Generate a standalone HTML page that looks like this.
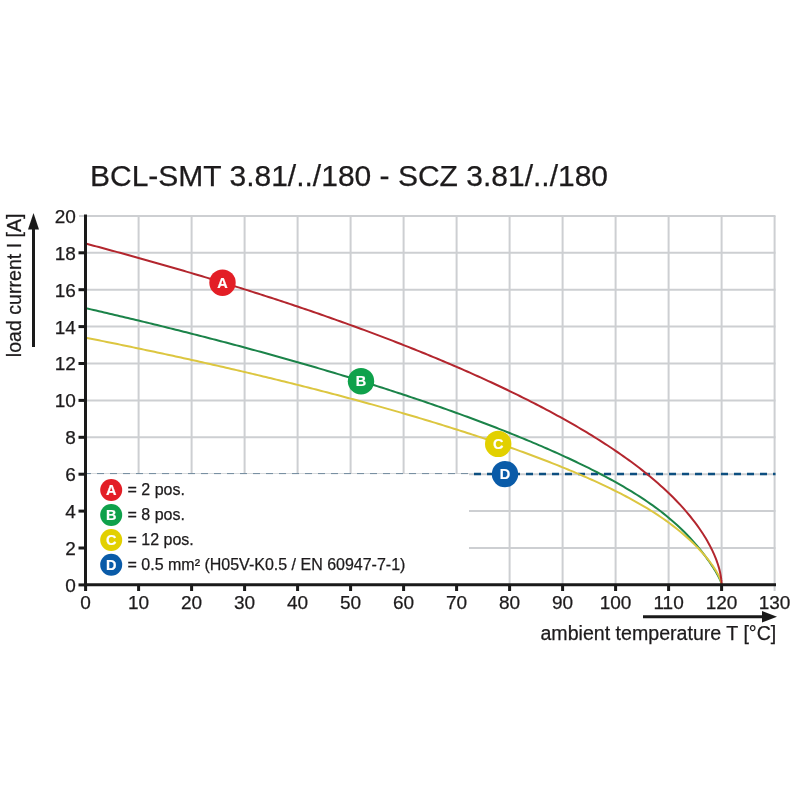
<!DOCTYPE html>
<html><head><meta charset="utf-8"><style>
html,body{margin:0;padding:0;background:#fff;width:800px;height:800px;overflow:hidden}
svg{display:block;filter:blur(0.35px)}
text{font-family:"Liberation Sans",sans-serif;fill:#1d1b1c;stroke:#1d1b1c;stroke-width:0.25px}
</style></head><body>
<svg width="800" height="800" viewBox="0 0 800 800">
<rect width="800" height="800" fill="#fff"/>
<text x="90" y="185.6" font-size="30">BCL-SMT 3.81/../180 - SCZ 3.81/../180</text>
<g stroke="#cdcfd2" stroke-width="2"><line x1="85.60" y1="215.9" x2="85.60" y2="591" /><line x1="138.60" y1="215.9" x2="138.60" y2="591" /><line x1="191.60" y1="215.9" x2="191.60" y2="591" /><line x1="244.60" y1="215.9" x2="244.60" y2="591" /><line x1="297.60" y1="215.9" x2="297.60" y2="591" /><line x1="350.60" y1="215.9" x2="350.60" y2="591" /><line x1="403.60" y1="215.9" x2="403.60" y2="591" /><line x1="456.60" y1="215.9" x2="456.60" y2="591" /><line x1="509.60" y1="215.9" x2="509.60" y2="591" /><line x1="562.60" y1="215.9" x2="562.60" y2="591" /><line x1="615.60" y1="215.9" x2="615.60" y2="591" /><line x1="668.60" y1="215.9" x2="668.60" y2="591" /><line x1="721.60" y1="215.9" x2="721.60" y2="591" /><line x1="774.60" y1="215.9" x2="774.60" y2="591" /><line x1="79" y1="584.90" x2="775.5" y2="584.90" /><line x1="79" y1="548.00" x2="775.5" y2="548.00" /><line x1="79" y1="511.10" x2="775.5" y2="511.10" /><line x1="79" y1="474.20" x2="775.5" y2="474.20" /><line x1="79" y1="437.30" x2="775.5" y2="437.30" /><line x1="79" y1="400.40" x2="775.5" y2="400.40" /><line x1="79" y1="363.50" x2="775.5" y2="363.50" /><line x1="79" y1="326.60" x2="775.5" y2="326.60" /><line x1="79" y1="289.70" x2="775.5" y2="289.70" /><line x1="79" y1="252.80" x2="775.5" y2="252.80" /><line x1="79" y1="215.90" x2="775.5" y2="215.90" /></g>
<rect x="87" y="474" width="382" height="109.5" fill="#fff"/>
<line x1="86" y1="473.6" x2="469" y2="473.6" stroke="#6f889c" stroke-width="1" stroke-dasharray="7 6" stroke-dashoffset="2"/>
<line x1="469" y1="474" x2="775.5" y2="474" stroke="#0d4f80" stroke-width="2.4" stroke-dasharray="7 6" stroke-dashoffset="8"/>
<path d="M85.60,308.15 L88.25,308.76 L90.90,309.37 L93.55,309.97 L96.20,310.59 L98.85,311.20 L101.50,311.81 L104.15,312.43 L106.80,313.05 L109.45,313.67 L112.10,314.29 L114.75,314.91 L117.40,315.53 L120.05,316.16 L122.70,316.78 L125.35,317.41 L128.00,318.04 L130.65,318.68 L133.30,319.31 L135.95,319.94 L138.60,320.58 L141.25,321.22 L143.90,321.86 L146.55,322.50 L149.20,323.14 L151.85,323.79 L154.50,324.44 L157.15,325.08 L159.80,325.73 L162.45,326.39 L165.10,327.04 L167.75,327.69 L170.40,328.35 L173.05,329.01 L175.70,329.67 L178.35,330.33 L181.00,331.00 L183.65,331.66 L186.30,332.33 L188.95,333.00 L191.60,333.67 L194.25,334.35 L196.90,335.02 L199.55,335.70 L202.20,336.38 L204.85,337.06 L207.50,337.74 L210.15,338.43 L212.80,339.11 L215.45,339.80 L218.10,340.49 L220.75,341.19 L223.40,341.88 L226.05,342.58 L228.70,343.28 L231.35,343.98 L234.00,344.68 L236.65,345.39 L239.30,346.09 L241.95,346.80 L244.60,347.51 L247.25,348.23 L249.90,348.94 L252.55,349.66 L255.20,350.38 L257.85,351.10 L260.50,351.82 L263.15,352.55 L265.80,353.28 L268.45,354.01 L271.10,354.74 L273.75,355.48 L276.40,356.21 L279.05,356.95 L281.70,357.70 L284.35,358.44 L287.00,359.19 L289.65,359.94 L292.30,360.69 L294.95,361.44 L297.60,362.20 L300.25,362.96 L302.90,363.72 L305.55,364.48 L308.20,365.25 L310.85,366.02 L313.50,366.79 L316.15,367.56 L318.80,368.34 L321.45,369.12 L324.10,369.90 L326.75,370.68 L329.40,371.47 L332.05,372.26 L334.70,373.05 L337.35,373.85 L340.00,374.64 L342.65,375.44 L345.30,376.25 L347.95,377.05 L350.60,377.86 L353.25,378.68 L355.90,379.49 L358.55,380.31 L361.20,381.13 L363.85,381.95 L366.50,382.78 L369.15,383.61 L371.80,384.44 L374.45,385.28 L377.10,386.12 L379.75,386.96 L382.40,387.81 L385.05,388.66 L387.70,389.51 L390.35,390.37 L393.00,391.22 L395.65,392.09 L398.30,392.95 L400.95,393.82 L403.60,394.69 L406.25,395.57 L408.90,396.45 L411.55,397.33 L414.20,398.22 L416.85,399.11 L419.50,400.01 L422.15,400.90 L424.80,401.81 L427.45,402.71 L430.10,403.62 L432.75,404.54 L435.40,405.45 L438.05,406.38 L440.70,407.30 L443.35,408.23 L446.00,409.17 L448.65,410.11 L451.30,411.05 L453.95,412.00 L456.60,412.95 L459.25,413.91 L461.90,414.87 L464.55,415.83 L467.20,416.80 L469.85,417.78 L472.50,418.76 L475.15,419.74 L477.80,420.73 L480.45,421.73 L483.10,422.73 L485.75,423.73 L488.40,424.74 L491.05,425.76 L493.70,426.78 L496.35,427.80 L499.00,428.84 L501.65,429.87 L504.30,430.92 L506.95,431.97 L509.60,433.02 L512.25,434.09 L514.90,435.15 L517.55,436.23 L520.20,437.31 L522.85,438.40 L525.50,439.49 L528.15,440.59 L530.80,441.70 L533.45,442.81 L536.10,443.94 L538.75,445.06 L541.40,446.20 L544.05,447.35 L546.70,448.50 L549.35,449.66 L552.00,450.83 L554.65,452.01 L557.30,453.20 L559.95,454.39 L562.60,455.60 L565.25,456.81 L567.90,458.03 L570.55,459.27 L573.20,460.51 L575.85,461.77 L578.50,463.03 L581.15,464.31 L583.80,465.60 L586.45,466.90 L589.10,468.22 L591.75,469.54 L594.40,470.89 L597.05,472.24 L599.70,473.61 L602.35,474.99 L605.00,476.39 L607.65,477.81 L610.30,479.25 L612.95,480.70 L615.60,482.17 L618.25,483.66 L620.90,485.17 L623.55,486.71 L626.20,488.27 L628.85,489.85 L631.50,491.45 L634.15,493.09 L636.80,494.75 L639.45,496.45 L642.10,498.17 L644.75,499.93 L647.40,501.73 L650.05,503.56 L652.70,505.43 L655.35,507.35 L658.00,509.31 L660.65,511.32 L663.30,513.39 L665.95,515.50 L668.60,517.68 L673.01,521.44 L677.05,525.05 L680.76,528.52 L684.16,531.84 L687.28,535.00 L690.13,538.02 L692.75,540.89 L695.15,543.61 L697.35,546.19 L699.37,548.62 L701.22,550.91 L702.92,553.07 L704.47,555.10 L705.90,557.00 L707.20,558.79 L708.40,560.46 L709.50,562.02 L710.51,563.48 L711.43,564.85 L712.28,566.12 L713.05,567.32 L713.76,568.43 L714.42,569.47 L715.01,570.44 L715.56,571.34 L716.06,572.19 L716.53,572.98 L716.95,573.71 L717.33,574.40 L717.69,575.05 L718.02,575.65 L718.31,576.21 L718.59,576.74 L718.84,577.23 L719.07,577.69 L719.28,578.12 L719.47,578.53 L719.65,578.91 L719.81,579.27 L719.96,579.60 L720.10,579.91 L720.22,580.21 L720.34,580.48 L720.44,580.74 L720.54,580.98 L720.63,581.21 L720.71,581.43 L720.78,581.63 L720.85,581.82 L720.91,582.00 L720.97,582.17 L721.02,582.32 L721.07,582.47 L721.11,582.61 L721.15,582.74 L721.19,582.87 L721.23,582.98 L721.26,583.09 L721.29,583.20 L721.31,583.29 L721.34,583.39 L721.36,583.47 L721.38,583.55 L721.40,583.63 L721.41,583.70 L721.43,583.77 L721.44,583.84 L721.46,583.90 L721.47,583.95 L721.48,584.01 L721.49,584.06 L721.50,584.11 L721.51,584.15 L721.51,584.19 L721.52,584.23 L721.53,584.27 L721.53,584.31 L721.54,584.34 L721.54,584.37 L721.55,584.40 L721.55,584.43 L721.56,584.46 L721.56,584.48 L721.56,584.51 L721.57,584.53 L721.57,584.55 L721.57,584.57 L721.57,584.59 L721.58,584.61 L721.58,584.62 L721.58,584.64 L721.58,584.65 L721.58,584.67 L721.58,584.68 L721.59,584.69 L721.59,584.70 L721.59,584.72 L721.59,584.73 L721.59,584.74 L721.59,584.75 L721.59,584.75 L721.59,584.76 L721.59,584.77 L721.59,584.78 L721.59,584.78 L721.59,584.79 L721.60,584.80 L721.60,584.80 L721.60,584.81 L721.60,584.81 L721.60,584.82 L721.60,584.82 L721.60,584.83 L721.60,584.83 L721.60,584.84 L721.60,584.84 L721.60,584.84 L721.60,584.85 L721.60,584.85 L721.60,584.85 L721.60,584.85 L721.60,584.86 L721.60,584.86 L721.60,584.86 L721.60,584.86 L721.60,584.87 L721.60,584.87 L721.60,584.87 L721.60,584.87 L721.60,584.87 L721.60,584.87 L721.60,584.88 L721.60,584.88 L721.60,584.88 L721.60,584.88 L721.60,584.88 L721.60,584.88 L721.60,584.88 L721.60,584.88 L721.60,584.88 L721.60,584.89 L721.60,584.89 L721.60,584.89 L721.60,584.89 L721.60,584.89 L721.60,584.89 L721.60,584.89 L721.60,584.89 L721.60,584.89 L721.60,584.89 L721.60,584.89 L721.60,584.89 L721.60,584.89 L721.60,584.89 L721.60,584.89 L721.60,584.89 L721.60,584.89 L721.60,584.89 L721.60,584.90 L721.60,584.90" fill="none" stroke="#1b8349" stroke-width="2"/>
<path d="M85.60,337.67 L88.25,338.20 L90.90,338.73 L93.55,339.26 L96.20,339.79 L98.85,340.32 L101.50,340.86 L104.15,341.39 L106.80,341.93 L109.45,342.47 L112.10,343.01 L114.75,343.55 L117.40,344.10 L120.05,344.64 L122.70,345.19 L125.35,345.73 L128.00,346.28 L130.65,346.83 L133.30,347.38 L135.95,347.94 L138.60,348.49 L141.25,349.05 L143.90,349.61 L146.55,350.17 L149.20,350.73 L151.85,351.29 L154.50,351.85 L157.15,352.42 L159.80,352.99 L162.45,353.55 L165.10,354.12 L167.75,354.70 L170.40,355.27 L173.05,355.84 L175.70,356.42 L178.35,357.00 L181.00,357.58 L183.65,358.16 L186.30,358.74 L188.95,359.33 L191.60,359.91 L194.25,360.50 L196.90,361.09 L199.55,361.68 L202.20,362.28 L204.85,362.87 L207.50,363.47 L210.15,364.07 L212.80,364.67 L215.45,365.27 L218.10,365.87 L220.75,366.48 L223.40,367.08 L226.05,367.69 L228.70,368.30 L231.35,368.92 L234.00,369.53 L236.65,370.15 L239.30,370.77 L241.95,371.39 L244.60,372.01 L247.25,372.63 L249.90,373.26 L252.55,373.89 L255.20,374.52 L257.85,375.15 L260.50,375.78 L263.15,376.42 L265.80,377.05 L268.45,377.69 L271.10,378.34 L273.75,378.98 L276.40,379.63 L279.05,380.27 L281.70,380.92 L284.35,381.58 L287.00,382.23 L289.65,382.89 L292.30,383.55 L294.95,384.21 L297.60,384.87 L300.25,385.53 L302.90,386.20 L305.55,386.87 L308.20,387.54 L310.85,388.22 L313.50,388.89 L316.15,389.57 L318.80,390.25 L321.45,390.94 L324.10,391.62 L326.75,392.31 L329.40,393.00 L332.05,393.70 L334.70,394.39 L337.35,395.09 L340.00,395.79 L342.65,396.49 L345.30,397.20 L347.95,397.91 L350.60,398.62 L353.25,399.33 L355.90,400.05 L358.55,400.77 L361.20,401.49 L363.85,402.21 L366.50,402.94 L369.15,403.67 L371.80,404.40 L374.45,405.14 L377.10,405.88 L379.75,406.62 L382.40,407.36 L385.05,408.11 L387.70,408.86 L390.35,409.61 L393.00,410.37 L395.65,411.13 L398.30,411.89 L400.95,412.65 L403.60,413.42 L406.25,414.20 L408.90,414.97 L411.55,415.75 L414.20,416.53 L416.85,417.32 L419.50,418.10 L422.15,418.90 L424.80,419.69 L427.45,420.49 L430.10,421.29 L432.75,422.10 L435.40,422.91 L438.05,423.72 L440.70,424.54 L443.35,425.36 L446.00,426.18 L448.65,427.01 L451.30,427.84 L453.95,428.68 L456.60,429.52 L459.25,430.37 L461.90,431.22 L464.55,432.07 L467.20,432.93 L469.85,433.79 L472.50,434.65 L475.15,435.52 L477.80,436.40 L480.45,437.28 L483.10,438.16 L485.75,439.05 L488.40,439.95 L491.05,440.84 L493.70,441.75 L496.35,442.66 L499.00,443.57 L501.65,444.49 L504.30,445.41 L506.95,446.34 L509.60,447.28 L512.25,448.22 L514.90,449.17 L517.55,450.12 L520.20,451.08 L522.85,452.04 L525.50,453.01 L528.15,453.99 L530.80,454.97 L533.45,455.96 L536.10,456.96 L538.75,457.96 L541.40,458.97 L544.05,459.99 L546.70,461.01 L549.35,462.04 L552.00,463.08 L554.65,464.13 L557.30,465.19 L559.95,466.25 L562.60,467.32 L565.25,468.41 L567.90,469.50 L570.55,470.60 L573.20,471.70 L575.85,472.82 L578.50,473.95 L581.15,475.09 L583.80,476.24 L586.45,477.40 L589.10,478.58 L591.75,479.76 L594.40,480.96 L597.05,482.17 L599.70,483.39 L602.35,484.63 L605.00,485.88 L607.65,487.15 L610.30,488.43 L612.95,489.73 L615.60,491.04 L618.25,492.37 L620.90,493.73 L623.55,495.10 L626.20,496.49 L628.85,497.90 L631.50,499.34 L634.15,500.79 L636.80,502.28 L639.45,503.79 L642.10,505.32 L644.75,506.89 L647.40,508.48 L650.05,510.11 L652.70,511.77 L655.35,513.46 L658.00,515.20 L660.65,516.97 L663.30,518.79 L665.95,520.65 L668.60,522.56 L673.01,525.85 L677.05,529.00 L680.76,532.02 L684.16,534.90 L687.28,537.65 L690.13,540.27 L692.75,542.76 L695.15,545.12 L697.35,547.36 L699.37,549.49 L701.22,551.50 L702.92,553.40 L704.47,555.19 L705.90,556.88 L707.20,558.48 L708.40,559.99 L709.50,561.40 L710.51,562.74 L711.43,564.00 L712.28,565.18 L713.05,566.29 L713.76,567.34 L714.42,568.33 L715.01,569.26 L715.56,570.13 L716.06,570.96 L716.53,571.73 L716.95,572.46 L717.33,573.15 L717.69,573.80 L718.02,574.41 L718.31,574.98 L718.59,575.52 L718.84,576.04 L719.07,576.52 L719.28,576.97 L719.47,577.40 L719.65,577.81 L719.81,578.19 L719.96,578.55 L720.10,578.89 L720.22,579.22 L720.34,579.52 L720.44,579.81 L720.54,580.08 L720.63,580.34 L720.71,580.58 L720.78,580.81 L720.85,581.03 L720.91,581.23 L720.97,581.43 L721.02,581.61 L721.07,581.79 L721.11,581.95 L721.15,582.11 L721.19,582.25 L721.23,582.39 L721.26,582.53 L721.29,582.65 L721.31,582.77 L721.34,582.88 L721.36,582.99 L721.38,583.09 L721.40,583.18 L721.41,583.27 L721.43,583.36 L721.44,583.44 L721.46,583.52 L721.47,583.59 L721.48,583.66 L721.49,583.72 L721.50,583.79 L721.51,583.84 L721.51,583.90 L721.52,583.95 L721.53,584.00 L721.53,584.05 L721.54,584.09 L721.54,584.14 L721.55,584.18 L721.55,584.21 L721.56,584.25 L721.56,584.28 L721.56,584.32 L721.57,584.35 L721.57,584.38 L721.57,584.40 L721.57,584.43 L721.58,584.45 L721.58,584.48 L721.58,584.50 L721.58,584.52 L721.58,584.54 L721.58,584.56 L721.59,584.58 L721.59,584.59 L721.59,584.61 L721.59,584.62 L721.59,584.64 L721.59,584.65 L721.59,584.67 L721.59,584.68 L721.59,584.69 L721.59,584.70 L721.59,584.71 L721.59,584.72 L721.60,584.73 L721.60,584.74 L721.60,584.75 L721.60,584.76 L721.60,584.76 L721.60,584.77 L721.60,584.78 L721.60,584.78 L721.60,584.79 L721.60,584.80 L721.60,584.80 L721.60,584.81 L721.60,584.81 L721.60,584.82 L721.60,584.82 L721.60,584.82 L721.60,584.83 L721.60,584.83 L721.60,584.84 L721.60,584.84 L721.60,584.84 L721.60,584.85 L721.60,584.85 L721.60,584.85 L721.60,584.85 L721.60,584.86 L721.60,584.86 L721.60,584.86 L721.60,584.86 L721.60,584.86 L721.60,584.87 L721.60,584.87 L721.60,584.87 L721.60,584.87 L721.60,584.87 L721.60,584.87 L721.60,584.88 L721.60,584.88 L721.60,584.88 L721.60,584.88 L721.60,584.88 L721.60,584.88 L721.60,584.88 L721.60,584.88 L721.60,584.88 L721.60,584.88 L721.60,584.89 L721.60,584.89 L721.60,584.89 L721.60,584.89 L721.60,584.89 L721.60,584.89 L721.60,584.89 L721.60,584.90" fill="none" stroke="#dcc640" stroke-width="2"/>
<path d="M85.60,243.57 L88.25,244.27 L90.90,244.98 L93.55,245.68 L96.20,246.39 L98.85,247.09 L101.50,247.80 L104.15,248.51 L106.80,249.23 L109.45,249.94 L112.10,250.66 L114.75,251.38 L117.40,252.10 L120.05,252.83 L122.70,253.55 L125.35,254.28 L128.00,255.01 L130.65,255.74 L133.30,256.47 L135.95,257.21 L138.60,257.95 L141.25,258.69 L143.90,259.43 L146.55,260.17 L149.20,260.92 L151.85,261.67 L154.50,262.42 L157.15,263.17 L159.80,263.93 L162.45,264.68 L165.10,265.44 L167.75,266.21 L170.40,266.97 L173.05,267.74 L175.70,268.50 L178.35,269.28 L181.00,270.05 L183.65,270.82 L186.30,271.60 L188.95,272.38 L191.60,273.16 L194.25,273.95 L196.90,274.74 L199.55,275.52 L202.20,276.32 L204.85,277.11 L207.50,277.91 L210.15,278.71 L212.80,279.51 L215.45,280.31 L218.10,281.12 L220.75,281.93 L223.40,282.74 L226.05,283.55 L228.70,284.37 L231.35,285.19 L234.00,286.01 L236.65,286.84 L239.30,287.66 L241.95,288.49 L244.60,289.33 L247.25,290.16 L249.90,291.00 L252.55,291.84 L255.20,292.69 L257.85,293.53 L260.50,294.38 L263.15,295.23 L265.80,296.09 L268.45,296.94 L271.10,297.80 L273.75,298.67 L276.40,299.53 L279.05,300.40 L281.70,301.28 L284.35,302.15 L287.00,303.03 L289.65,303.91 L292.30,304.79 L294.95,305.68 L297.60,306.57 L300.25,307.47 L302.90,308.36 L305.55,309.26 L308.20,310.16 L310.85,311.07 L313.50,311.98 L316.15,312.89 L318.80,313.81 L321.45,314.73 L324.10,315.65 L326.75,316.58 L329.40,317.51 L332.05,318.44 L334.70,319.38 L337.35,320.32 L340.00,321.26 L342.65,322.21 L345.30,323.16 L347.95,324.11 L350.60,325.07 L353.25,326.03 L355.90,327.00 L358.55,327.97 L361.20,328.94 L363.85,329.92 L366.50,330.90 L369.15,331.88 L371.80,332.87 L374.45,333.86 L377.10,334.86 L379.75,335.86 L382.40,336.87 L385.05,337.88 L387.70,338.89 L390.35,339.91 L393.00,340.93 L395.65,341.96 L398.30,342.99 L400.95,344.02 L403.60,345.06 L406.25,346.10 L408.90,347.15 L411.55,348.21 L414.20,349.26 L416.85,350.33 L419.50,351.40 L422.15,352.47 L424.80,353.55 L427.45,354.63 L430.10,355.71 L432.75,356.81 L435.40,357.91 L438.05,359.01 L440.70,360.12 L443.35,361.23 L446.00,362.35 L448.65,363.47 L451.30,364.60 L453.95,365.74 L456.60,366.88 L459.25,368.03 L461.90,369.18 L464.55,370.34 L467.20,371.50 L469.85,372.68 L472.50,373.85 L475.15,375.04 L477.80,376.23 L480.45,377.42 L483.10,378.63 L485.75,379.84 L488.40,381.05 L491.05,382.28 L493.70,383.51 L496.35,384.75 L499.00,385.99 L501.65,387.24 L504.30,388.50 L506.95,389.77 L509.60,391.05 L512.25,392.33 L514.90,393.62 L517.55,394.92 L520.20,396.23 L522.85,397.55 L525.50,398.87 L528.15,400.20 L530.80,401.55 L533.45,402.90 L536.10,404.26 L538.75,405.63 L541.40,407.01 L544.05,408.40 L546.70,409.80 L549.35,411.22 L552.00,412.64 L554.65,414.07 L557.30,415.51 L559.95,416.97 L562.60,418.44 L565.25,419.92 L567.90,421.41 L570.55,422.91 L573.20,424.43 L575.85,425.96 L578.50,427.51 L581.15,429.06 L583.80,430.64 L586.45,432.23 L589.10,433.83 L591.75,435.45 L594.40,437.08 L597.05,438.74 L599.70,440.41 L602.35,442.09 L605.00,443.80 L607.65,445.53 L610.30,447.27 L612.95,449.04 L615.60,450.83 L618.25,452.64 L620.90,454.47 L623.55,456.33 L626.20,458.22 L628.85,460.13 L631.50,462.06 L634.15,464.03 L636.80,466.03 L639.45,468.06 L642.10,470.12 L644.75,472.21 L647.40,474.35 L650.05,476.52 L652.70,478.73 L655.35,480.99 L658.00,483.29 L660.65,485.64 L663.30,488.04 L665.95,490.49 L668.60,493.01 L673.01,497.33 L677.05,501.47 L680.76,505.42 L684.16,509.20 L687.28,512.81 L690.13,516.25 L692.75,519.54 L695.15,522.67 L697.35,525.66 L699.37,528.50 L701.22,531.21 L702.92,533.80 L704.47,536.26 L705.90,538.60 L707.20,540.82 L708.40,542.94 L709.50,544.96 L710.51,546.87 L711.43,548.70 L712.28,550.43 L713.05,552.08 L713.76,553.65 L714.42,555.15 L715.01,556.57 L715.56,557.92 L716.06,559.20 L716.53,560.43 L716.95,561.59 L717.33,562.70 L717.69,563.75 L718.02,564.75 L718.31,565.71 L718.59,566.61 L718.84,567.48 L719.07,568.30 L719.28,569.08 L719.47,569.83 L719.65,570.54 L719.81,571.22 L719.96,571.86 L720.10,572.47 L720.22,573.06 L720.34,573.61 L720.44,574.14 L720.54,574.65 L720.63,575.13 L720.71,575.59 L720.78,576.02 L720.85,576.44 L720.91,576.83 L720.97,577.21 L721.02,577.57 L721.07,577.91 L721.11,578.24 L721.15,578.55 L721.19,578.85 L721.23,579.13 L721.26,579.40 L721.29,579.66 L721.31,579.90 L721.34,580.14 L721.36,580.36 L721.38,580.57 L721.40,580.77 L721.41,580.96 L721.43,581.15 L721.44,581.32 L721.46,581.49 L721.47,581.65 L721.48,581.80 L721.49,581.95 L721.50,582.08 L721.51,582.21 L721.51,582.34 L721.52,582.46 L721.53,582.57 L721.53,582.68 L721.54,582.78 L721.54,582.88 L721.55,582.98 L721.55,583.07 L721.56,583.15 L721.56,583.23 L721.56,583.31 L721.57,583.39 L721.57,583.46 L721.57,583.52 L721.57,583.59 L721.58,583.65 L721.58,583.71 L721.58,583.76 L721.58,583.82 L721.58,583.87 L721.58,583.91 L721.59,583.96 L721.59,584.00 L721.59,584.05 L721.59,584.09 L721.59,584.12 L721.59,584.16 L721.59,584.19 L721.59,584.23 L721.59,584.26 L721.59,584.29 L721.59,584.32 L721.59,584.34 L721.60,584.37 L721.60,584.39 L721.60,584.42 L721.60,584.44 L721.60,584.46 L721.60,584.48 L721.60,584.50 L721.60,584.52 L721.60,584.54 L721.60,584.55 L721.60,584.57 L721.60,584.59 L721.60,584.60 L721.60,584.61 L721.60,584.63 L721.60,584.64 L721.60,584.65 L721.60,584.66 L721.60,584.68 L721.60,584.69 L721.60,584.70 L721.60,584.71 L721.60,584.71 L721.60,584.72 L721.60,584.73 L721.60,584.74 L721.60,584.75 L721.60,584.75 L721.60,584.76 L721.60,584.77 L721.60,584.77 L721.60,584.78 L721.60,584.78 L721.60,584.79 L721.60,584.80 L721.60,584.80 L721.60,584.80 L721.60,584.81 L721.60,584.81 L721.60,584.82 L721.60,584.82 L721.60,584.82 L721.60,584.83 L721.60,584.83 L721.60,584.83 L721.60,584.84 L721.60,584.84 L721.60,584.84 L721.60,584.85 L721.60,584.85 L721.60,584.85 L721.60,584.85 L721.60,584.86 L721.60,584.90" fill="none" stroke="#b3262e" stroke-width="2"/>
<g stroke="#1a1a1a" stroke-width="3"><line x1="78.5" y1="584.90" x2="86" y2="584.90" /><line x1="78.5" y1="548.00" x2="86" y2="548.00" /><line x1="78.5" y1="511.10" x2="86" y2="511.10" /><line x1="78.5" y1="474.20" x2="86" y2="474.20" /><line x1="78.5" y1="437.30" x2="86" y2="437.30" /><line x1="78.5" y1="400.40" x2="86" y2="400.40" /><line x1="78.5" y1="363.50" x2="86" y2="363.50" /><line x1="78.5" y1="326.60" x2="86" y2="326.60" /><line x1="78.5" y1="289.70" x2="86" y2="289.70" /><line x1="78.5" y1="252.80" x2="86" y2="252.80" /><line x1="85.60" y1="585" x2="85.60" y2="591" /><line x1="138.60" y1="585" x2="138.60" y2="591" /><line x1="191.60" y1="585" x2="191.60" y2="591" /><line x1="244.60" y1="585" x2="244.60" y2="591" /><line x1="297.60" y1="585" x2="297.60" y2="591" /><line x1="350.60" y1="585" x2="350.60" y2="591" /><line x1="403.60" y1="585" x2="403.60" y2="591" /><line x1="456.60" y1="585" x2="456.60" y2="591" /><line x1="509.60" y1="585" x2="509.60" y2="591" /><line x1="562.60" y1="585" x2="562.60" y2="591" /><line x1="615.60" y1="585" x2="615.60" y2="591" /><line x1="668.60" y1="585" x2="668.60" y2="591" /><line x1="721.60" y1="585" x2="721.60" y2="591" />
<line x1="85.5" y1="214.4" x2="85.5" y2="586.3" />
<line x1="84" y1="584.8" x2="776" y2="584.8" />
</g>
<g font-size="19"><text x="75.9" y="591.80" text-anchor="end">0</text><text x="75.9" y="554.90" text-anchor="end">2</text><text x="75.9" y="518.00" text-anchor="end">4</text><text x="75.9" y="481.10" text-anchor="end">6</text><text x="75.9" y="444.20" text-anchor="end">8</text><text x="75.9" y="407.30" text-anchor="end">10</text><text x="75.9" y="370.40" text-anchor="end">12</text><text x="75.9" y="333.50" text-anchor="end">14</text><text x="75.9" y="296.60" text-anchor="end">16</text><text x="75.9" y="259.70" text-anchor="end">18</text><text x="75.9" y="222.80" text-anchor="end">20</text><text x="85.60" y="608.5" text-anchor="middle">0</text><text x="138.60" y="608.5" text-anchor="middle">10</text><text x="191.60" y="608.5" text-anchor="middle">20</text><text x="244.60" y="608.5" text-anchor="middle">30</text><text x="297.60" y="608.5" text-anchor="middle">40</text><text x="350.60" y="608.5" text-anchor="middle">50</text><text x="403.60" y="608.5" text-anchor="middle">60</text><text x="456.60" y="608.5" text-anchor="middle">70</text><text x="509.60" y="608.5" text-anchor="middle">80</text><text x="562.60" y="608.5" text-anchor="middle">90</text><text x="615.60" y="608.5" text-anchor="middle">100</text><text x="668.60" y="608.5" text-anchor="middle">110</text><text x="721.60" y="608.5" text-anchor="middle">120</text><text x="774.60" y="608.5" text-anchor="middle">130</text></g>
<!-- y axis arrow -->
<line x1="33.5" y1="228" x2="33.5" y2="347" stroke="#1a1a1a" stroke-width="3"/>
<polygon points="33.5,213 28,229.5 39,229.5" fill="#1a1a1a"/>
<text transform="translate(21 357.2) rotate(-90)" font-size="19.6">load current I [A]</text>
<!-- x axis arrow -->
<line x1="643" y1="616.7" x2="763" y2="616.7" stroke="#1a1a1a" stroke-width="3"/>
<polygon points="777,616.7 762,611 762,622.4" fill="#1a1a1a"/>
<text x="776.3" y="639.9" font-size="19.6" text-anchor="end">ambient temperature T [°C]</text>
<!-- curve markers -->
<g font-weight="bold" text-anchor="middle">
<circle cx="222.5" cy="282.7" r="13.2" fill="#e31e26"/><text x="222.5" y="287.9" font-size="14.5" style="fill:#fff;stroke:#fff;stroke-width:0.2px">A</text>
<circle cx="361" cy="381.2" r="13.2" fill="#0fa14b"/><text x="361" y="386.4" font-size="14.5" style="fill:#fff;stroke:#fff;stroke-width:0.2px">B</text>
<circle cx="498.2" cy="443.9" r="13.2" fill="#e2d000"/><text x="498.2" y="449.1" font-size="14.5" style="fill:#fff;stroke:#fff;stroke-width:0.2px">C</text>
<circle cx="505" cy="474.1" r="13.2" fill="#0a5ba8"/><text x="505" y="479.3" font-size="14.5" style="fill:#fff;stroke:#fff;stroke-width:0.2px">D</text>
</g>
<!-- legend -->
<g font-weight="bold" text-anchor="middle">
<circle cx="111.2" cy="490" r="11" fill="#e31e26"/><text x="111.2" y="495.2" font-size="14.5" style="fill:#fff;stroke:#fff;stroke-width:0.2px">A</text>
<circle cx="111.2" cy="515" r="11" fill="#0fa14b"/><text x="111.2" y="520.2" font-size="14.5" style="fill:#fff;stroke:#fff;stroke-width:0.2px">B</text>
<circle cx="111.2" cy="540" r="11" fill="#e2d000"/><text x="111.2" y="545.2" font-size="14.5" style="fill:#fff;stroke:#fff;stroke-width:0.2px">C</text>
<circle cx="111.2" cy="564.8" r="11" fill="#0a5ba8"/><text x="111.2" y="570" font-size="14.5" style="fill:#fff;stroke:#fff;stroke-width:0.2px">D</text>
</g>
<g font-size="16">
<text x="127.5" y="495.2">= 2 pos.</text>
<text x="127.5" y="520.2">= 8 pos.</text>
<text x="127.5" y="545.2">= 12 pos.</text>
<text x="127.5" y="570.1">= 0.5 mm² (H05V-K0.5 / EN 60947-7-1)</text>
</g>
</svg>
</body></html>
